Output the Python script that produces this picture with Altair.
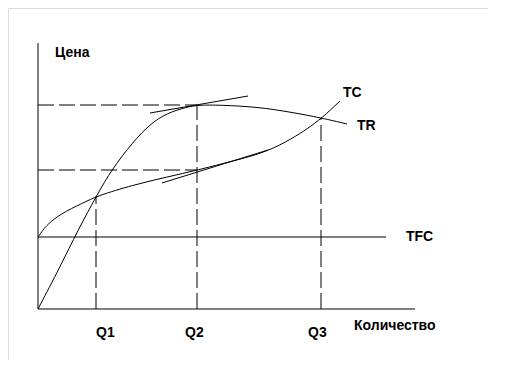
import altair as alt
import pandas as pd

# Curves (quantity, money)
tr_q = [0, 2.2, 4.0, 5.9, 7.4, 9.5, 11.2, 12.9, 14.9, 16.0, 18.2, 22.0, 25.2, 28.4, 30.9]
tr_v = [0, 4.2, 7.9, 11.4, 14.0, 16.7, 18.5, 19.6, 20.2, 20.4, 20.4, 20.2, 19.7, 19.1, 18.5]
tc_q = [0, 0.5, 0.9, 2.2, 4.5, 5.9, 9.5, 12.9, 16.0, 19.5, 22.9, 25.5, 26.9, 28.4, 30.2]
tc_v = [7.2, 7.9, 8.4, 9.5, 10.6, 11.3, 12.4, 13.2, 13.9, 14.8, 15.7, 17.1, 18.0, 19.1, 20.8]

tfc_level = 7.2
tfc_end = 34.8
q_points = [5.8, 15.9, 28.3]
q_tops = [11.3, 20.4, 19.1]
price_levels = [13.9, 20.4]
price_end = 15.9
x_axis_end = 37.7
y_axis_end = 26.6

# Tangent segments at Q2
tan_tr = [(11.2, 19.6), (21.0, 21.3)]
tan_tc = [(12.4, 12.6), (23.0, 15.9)]

labels = ["Цена", "TC", "TR", "TFC", "Q1", "Q2", "Q3", "Количество"]
label_x = [1.7, 30.5, 31.9, 36.8, 5.8, 14.7, 27.0, 31.6]
label_y = [25.2, 21.2, 17.9, 6.8, -2.8, -2.8, -2.8, -2.1]

xs = alt.Scale(domain=[-3.0, 45.0], nice=False, zero=False)
ys = alt.Scale(domain=[-5.1, 30.1], nice=False, zero=False)

curves = pd.DataFrame(
    [{"q": q, "v": v, "s": "TR", "o": i} for i, (q, v) in enumerate(zip(tr_q, tr_v))]
    + [{"q": q, "v": v, "s": "TC", "o": i} for i, (q, v) in enumerate(zip(tc_q, tc_v))]
)

solid = pd.DataFrame([
    {"x": 0, "y": 0, "x2": x_axis_end, "y2": 0},
    {"x": 0, "y": 0, "x2": 0, "y2": y_axis_end},
    {"x": 0, "y": tfc_level, "x2": tfc_end, "y2": tfc_level},
    {"x": tan_tr[0][0], "y": tan_tr[0][1], "x2": tan_tr[1][0], "y2": tan_tr[1][1]},
    {"x": tan_tc[0][0], "y": tan_tc[0][1], "x2": tan_tc[1][0], "y2": tan_tc[1][1]},
])

dashed = pd.DataFrame(
    [{"x": q, "y": 0, "x2": q, "y2": t} for q, t in zip(q_points, q_tops)]
    + [{"x": 0, "y": p, "x2": price_end, "y2": p} for p in price_levels]
)

lab = pd.DataFrame({"t": labels, "x": label_x, "y": label_y})

enc = dict(
    x=alt.X("x:Q", scale=xs, axis=None),
    y=alt.Y("y:Q", scale=ys, axis=None),
    x2="x2:Q",
    y2="y2:Q",
)

solid_layer = alt.Chart(solid).mark_rule(color="black", strokeWidth=1).encode(**enc)
dashed_layer = alt.Chart(dashed).mark_rule(color="black", strokeWidth=1, strokeDash=[16, 5]).encode(**enc)

curve_layer = alt.Chart(curves).mark_line(color="black", strokeWidth=1, interpolate="basis").encode(
    x=alt.X("q:Q", scale=xs, axis=None),
    y=alt.Y("v:Q", scale=ys, axis=None),
    detail="s:N",
    order="o:Q",
)

text_layer = alt.Chart(lab).mark_text(
    align="left", baseline="alphabetic", font="Liberation Sans", fontWeight="bold", fontSize=14, color="black"
).encode(
    x=alt.X("x:Q", scale=xs, axis=None),
    y=alt.Y("y:Q", scale=ys, axis=None),
    text="t:N",
)

chart = alt.layer(dashed_layer, solid_layer, curve_layer, text_layer).properties(
    width=480, height=352, autosize=alt.AutoSizeParams(type="none"), padding=0
).configure_view(stroke=None).configure(background="transparent")

chart.save("out.html", embed_options={"renderer": "svg", "actions": False})
